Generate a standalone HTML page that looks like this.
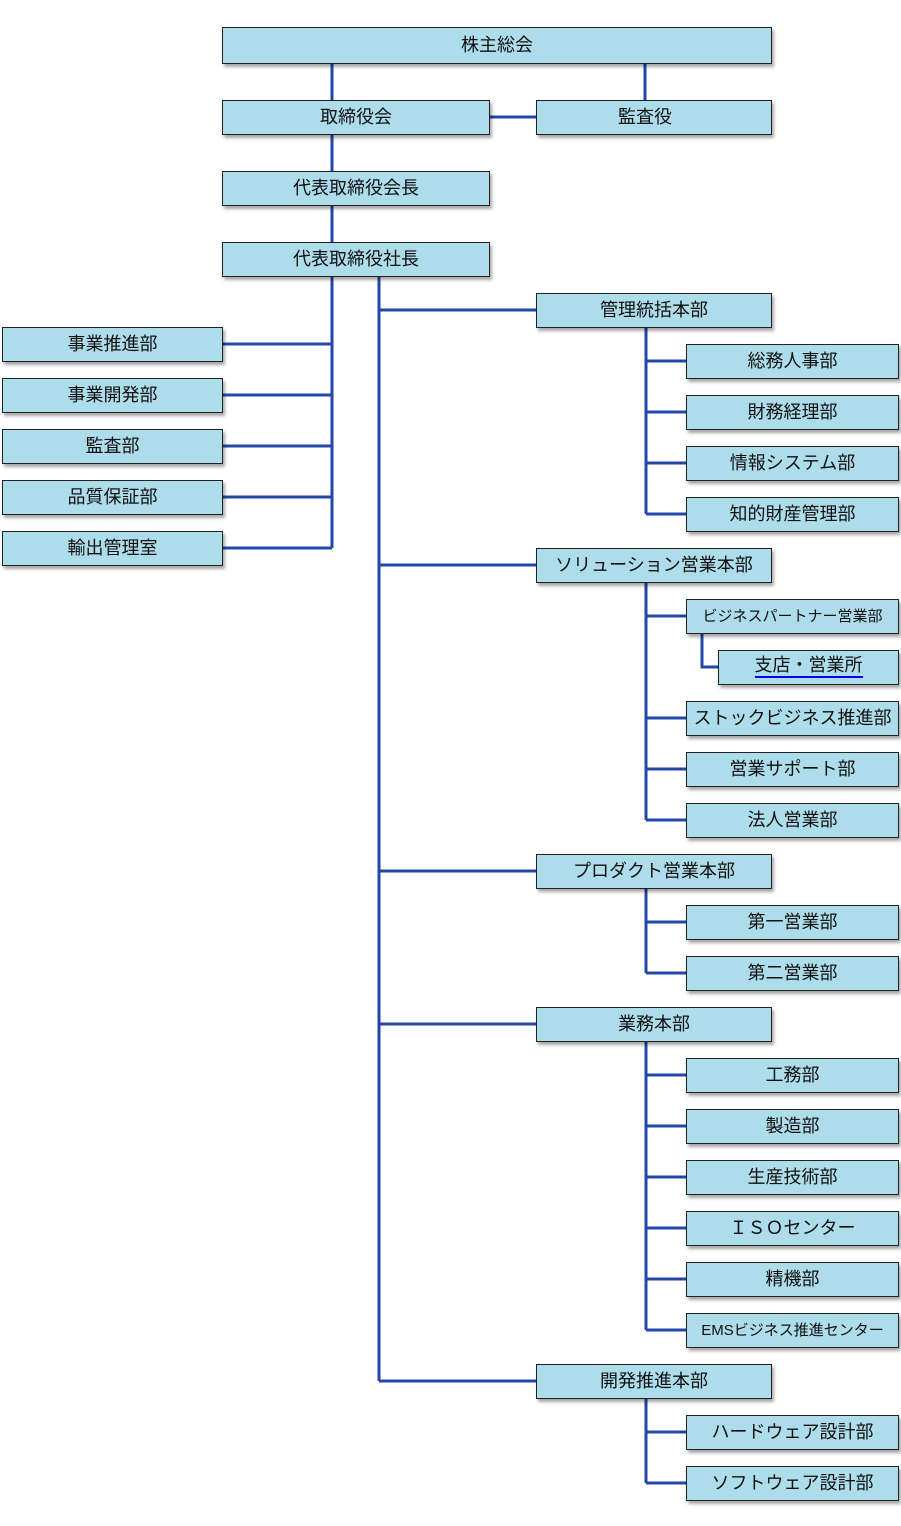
<!DOCTYPE html>
<html><head><meta charset="utf-8"><style>
body{margin:0;width:901px;height:1526px;background:#fff;position:relative;overflow:hidden;font-family:"Liberation Sans","Noto Sans CJK JP",sans-serif;}
.b{position:absolute;box-sizing:border-box;height:35px;padding-bottom:3px;background:#addcea;border:1px solid #222;box-shadow:2px 3px 3px rgba(0,0,0,0.35);display:flex;align-items:center;justify-content:center;font-size:18px;color:#111;white-space:nowrap;}
svg{position:absolute;left:0;top:0;}
</style></head><body>
<svg width="901" height="1526" stroke="#2247a6" stroke-width="3" fill="none">
<path d="M332 63V242M645 63V100M489 117H536"/>
<path d="M332 276V548M222 344H332M222 395H332M222 446H332M222 497H332M222 548H332"/>
<path d="M379 276V1381M379 310H536M379 565H536M379 871H536M379 1024H536M379 1381H536"/>
<path d="M646 327V514M646 361H686M646 412H686M646 463H686M646 514H686"/>
<path d="M646 582V820M646 616H686M646 718H686M646 769H686M646 820H686M702 633V667H718"/>
<path d="M646 888V973M646 922H686M646 973H686"/>
<path d="M646 1041V1330M646 1075H686M646 1126H686M646 1177H686M646 1228H686M646 1279H686M646 1330H686"/>
<path d="M646 1398V1483M646 1432H686M646 1483H686"/>
</svg>
<div class="b" style="left:222px;top:27px;width:550px;height:37px">株主総会</div>
<div class="b" style="left:222px;top:100px;width:268px">取締役会</div>
<div class="b" style="left:536px;top:100px;width:236px;padding-right:18px">監査役</div>
<div class="b" style="left:222px;top:171px;width:268px">代表取締役会長</div>
<div class="b" style="left:222px;top:242px;width:268px">代表取締役社長</div>
<div class="b" style="left:2px;top:327px;width:221px">事業推進部</div>
<div class="b" style="left:2px;top:378px;width:221px">事業開発部</div>
<div class="b" style="left:2px;top:429px;width:221px">監査部</div>
<div class="b" style="left:2px;top:480px;width:221px">品質保証部</div>
<div class="b" style="left:2px;top:531px;width:221px">輸出管理室</div>
<div class="b" style="left:536px;top:293px;width:236px">管理統括本部</div>
<div class="b" style="left:536px;top:548px;width:236px">ソリューション営業本部</div>
<div class="b" style="left:536px;top:854px;width:236px">プロダクト営業本部</div>
<div class="b" style="left:536px;top:1007px;width:236px">業務本部</div>
<div class="b" style="left:536px;top:1364px;width:236px">開発推進本部</div>
<div class="b" style="left:686px;top:344px;width:213px">総務人事部</div>
<div class="b" style="left:686px;top:395px;width:213px">財務経理部</div>
<div class="b" style="left:686px;top:446px;width:213px">情報システム部</div>
<div class="b" style="left:686px;top:497px;width:213px">知的財産管理部</div>
<div class="b" style="left:686px;top:599px;width:213px;font-size:15px">ビジネスパートナー営業部</div>
<div class="b" style="left:718px;top:650px;width:181px"><span style="border-bottom:2px solid #00f;line-height:21px">支店・営業所</span></div>
<div class="b" style="left:686px;top:701px;width:213px">ストックビジネス推進部</div>
<div class="b" style="left:686px;top:752px;width:213px">営業サポート部</div>
<div class="b" style="left:686px;top:803px;width:213px">法人営業部</div>
<div class="b" style="left:686px;top:905px;width:213px">第一営業部</div>
<div class="b" style="left:686px;top:956px;width:213px">第二営業部</div>
<div class="b" style="left:686px;top:1058px;width:213px">工務部</div>
<div class="b" style="left:686px;top:1109px;width:213px">製造部</div>
<div class="b" style="left:686px;top:1160px;width:213px">生産技術部</div>
<div class="b" style="left:686px;top:1211px;width:213px">ＩＳＯセンター</div>
<div class="b" style="left:686px;top:1262px;width:213px">精機部</div>
<div class="b" style="left:686px;top:1313px;width:213px;font-size:15px">EMSビジネス推進センター</div>
<div class="b" style="left:686px;top:1415px;width:213px">ハードウェア設計部</div>
<div class="b" style="left:686px;top:1466px;width:213px">ソフトウェア設計部</div>
</body></html>
